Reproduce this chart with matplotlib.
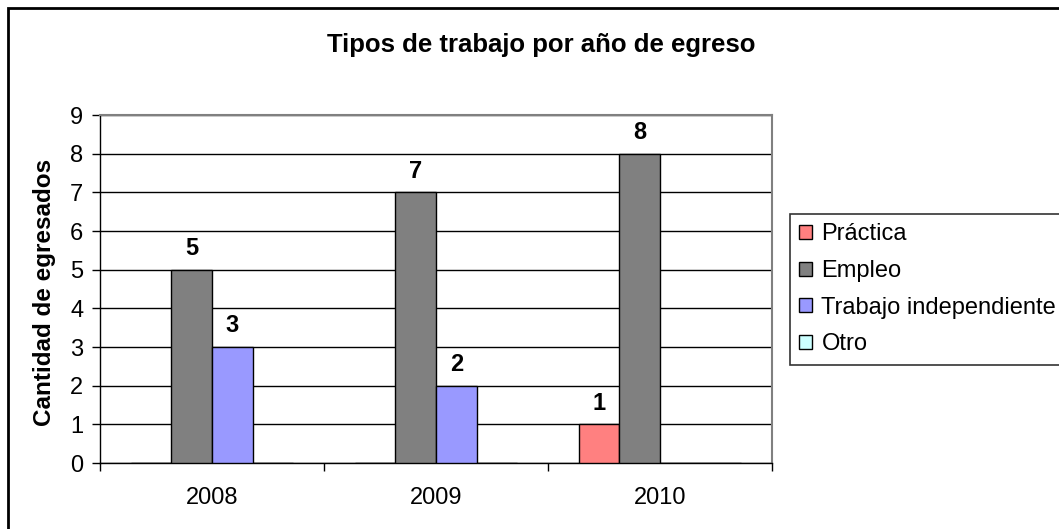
import numpy as np
import matplotlib
matplotlib.use('Agg')
import matplotlib.pyplot as plt
from matplotlib.patches import Rectangle

plt.rcParams['font.family'] = ['Liberation Sans', 'DejaVu Sans']

# data
years = ['2008', '2009', '2010']
series = ['Práctica', 'Empleo', 'Trabajo independiente', 'Otro']
practica = [0, 0, 1]
empleo = [5, 7, 8]
independiente = [3, 2, 0]
otro = [0, 0, 0]
colors = ['#FF8080', '#808080', '#9999FF', '#CCFFFF']

W, H = 1059, 529
fig = plt.figure(figsize=(W / 100, H / 100), dpi=100)
ax = fig.add_axes([100 / W, 1 - 463 / H, (772 - 100) / W, (463 - 115) / H])

x = np.arange(len(years))
w = 1 / 5.5
values = [practica, empleo, independiente, otro]
for i, (name, vals, c) in enumerate(zip(series, values, colors)):
    pos = x + (i - 1.5) * w
    ax.bar(pos, vals, width=w, color=c, edgecolor='black', linewidth=1,
           label=name, zorder=3)
    for px, v in zip(pos, vals):
        if v > 0:
            ax.annotate(str(v), (px, v), xytext=(0, 7), textcoords='offset points',
                        ha='center', va='bottom', fontsize=17, fontweight='bold')

ax.set_xlim(-0.5, 2.5)
ax.set_ylim(0, 9)
ax.set_yticks(range(0, 10))
ax.yaxis.grid(True, color='black', linewidth=1, zorder=0)
ax.set_axisbelow(True)

ax.set_xticks(x)
ax.set_xticklabels(years)
ax.set_xticks([-0.5, 0.5, 1.5, 2.5], minor=True)
ax.tick_params(axis='x', which='major', length=0, pad=17, labelsize=17)
ax.tick_params(axis='x', which='minor', length=6, width=1, direction='out')
ax.tick_params(axis='y', length=6, width=1, direction='out', pad=6, labelsize=17)

for s in ['top', 'right']:
    ax.spines[s].set_color('#808080')
    ax.spines[s].set_linewidth(1.5)
for s in ['left', 'bottom']:
    ax.spines[s].set_color('black')
    ax.spines[s].set_linewidth(1)

fig.text(45 / W, 1 - 292 / H, 'Cantidad de egresados', rotation=90,
         ha='center', va='center', fontsize=17.5, fontweight='bold')
fig.text(541 / W, 1 - 45 / H, 'Tipos de trabajo por año de egreso',
         ha='center', va='center', fontsize=18.5, fontweight='bold')

leg = fig.legend(loc='upper left', bbox_to_anchor=(790 / W, 1 - 214 / H),
                 bbox_transform=fig.transFigure, fontsize=17, frameon=True,
                 fancybox=False, shadow=False, borderaxespad=0, borderpad=0.4,
                 handlelength=0.55, handleheight=0.55, handletextpad=0.38,
                 labelspacing=0.62)
leg.get_frame().set_edgecolor('black')
leg.get_frame().set_linewidth(1.2)

fig.patches.append(Rectangle((8 / W, -0.1), 2, 1.1 - 8 / H, transform=fig.transFigure,
                             fill=False, edgecolor='black', linewidth=2))

fig.savefig('out.png', dpi=100)
